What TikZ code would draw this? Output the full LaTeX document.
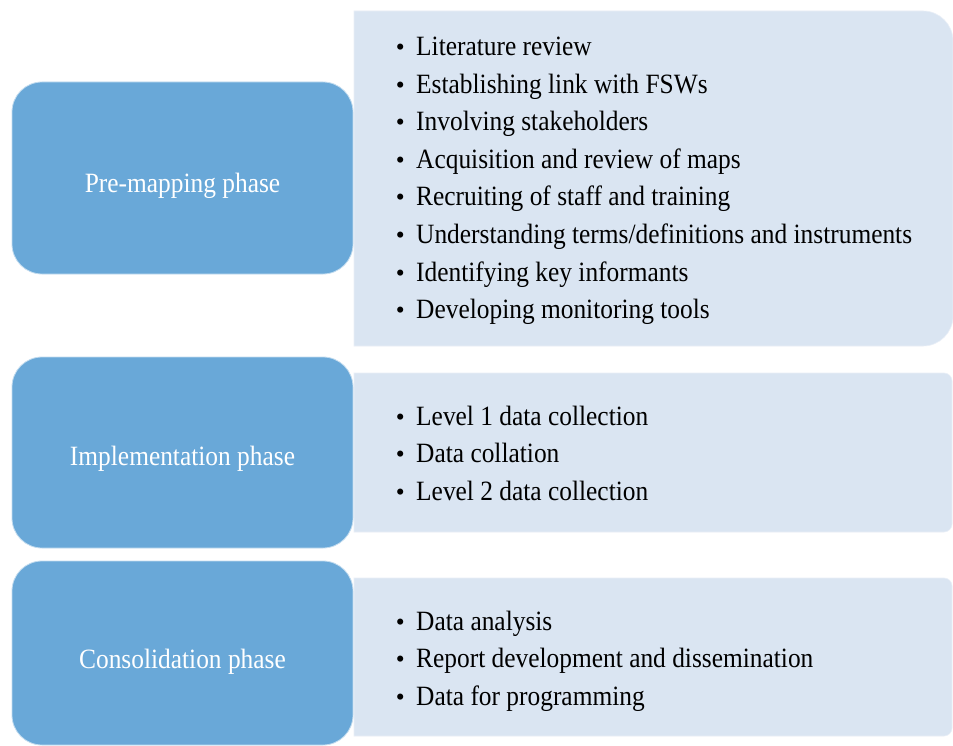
\documentclass[tikz,border=0pt]{standalone}
\usepackage{fontspec}
\usepackage{graphicx}
\setmainfont{Liberation Serif}
\definecolor{phaseblue}{RGB}{105,168,216}
\definecolor{listbg}{RGB}{218,229,242}
\newcommand{\tallt}[1]{\scalebox{1}[1.1]{#1}}
\newcommand{\bitem}[1]{\llap{\textbullet\hspace{11.5pt}}\tallt{#1}}
\begin{document}
\begin{tikzpicture}[x=1pt,y=-1pt,
  phasebox/.style={fill=phaseblue,draw=white!60!phaseblue,line width=0.8pt,rounded corners=30pt},
  listbox/.style={fill=listbg,draw=white!40!listbg,line width=0.6pt},
  phaselabel/.style={text=white,font=\fontsize{25.4}{30}\selectfont,inner sep=0pt},
  itemtext/.style={anchor=base west,inner sep=0pt,font=\fontsize{25.4}{30}\selectfont,text=black}
]
\useasboundingbox (0,0) rectangle (953,746);
\fill[white] (0,0) rectangle (953,746);
% light list boxes
\path[listbox]
  (354,11) -- (923,11) arc[start angle=-90,end angle=0,radius=30] -- (953,316)
  arc[start angle=0,end angle=90,radius=30] -- (354,346) -- cycle;
\path[listbox]
  (354,373) -- (944,373) arc[start angle=-90,end angle=0,radius=8] -- (952,524)
  arc[start angle=0,end angle=90,radius=8] -- (354,532) -- cycle;
\path[listbox]
  (354,578) -- (944,578) arc[start angle=-90,end angle=0,radius=8] -- (952,728)
  arc[start angle=0,end angle=90,radius=8] -- (354,736) -- cycle;
% phase boxes
\draw[phasebox] (12,82) rectangle (353,274);
\draw[phasebox] (12,357) rectangle (353,548);
\draw[phasebox] (12,561) rectangle (353,745);
\node[phaselabel,anchor=base] (p1) at (182.5,193) {\tallt{Pre-mapping phase}};
\node[phaselabel,anchor=base] (p2) at (182.5,465) {\tallt{Implementation phase}};
\node[phaselabel,anchor=base] (p3) at (182.5,668) {\tallt{Consolidation phase}};
% items
\foreach \t [count=\i] in {Literature review,Establishing link with FSWs,Involving stakeholders,Acquisition and review of maps,Recruiting of staff and training,Understanding terms/definitions and instruments,Identifying key informants,Developing monitoring tools}
  \node[itemtext] (a\i) at (416,{56+37.5*(\i-1)}) {\bitem{\t}};
\foreach \t [count=\i] in {Level 1 data collection,Data collation,Level 2 data collection}
  \node[itemtext] (b\i) at (416,{425+37.5*(\i-1)}) {\bitem{\t}};
\foreach \t [count=\i] in {Data analysis,Report development and dissemination,Data for programming}
  \node[itemtext] (c\i) at (416,{630+37.5*(\i-1)}) {\bitem{\t}};
\end{tikzpicture}
\end{document}
